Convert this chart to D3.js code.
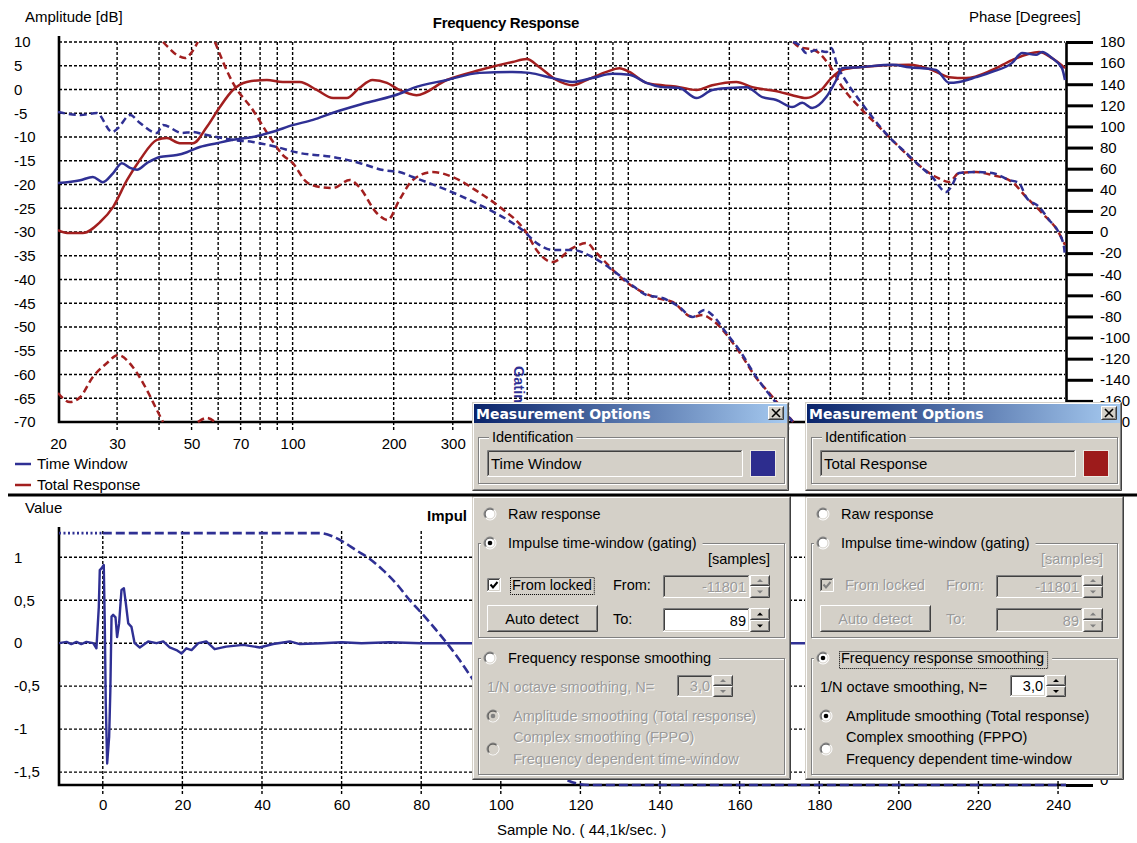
<!DOCTYPE html>
<html>
<head>
<meta charset="utf-8">
<title>Frequency Response / Impulse Response</title>
<script src="https://cdn.jsdelivr.net/npm/d3@7"></script>
<style>
  html, body { margin: 0; padding: 0; background: #fff; }
  svg { display: block; }
</style>
</head>
<body>
<svg id="chart" width="1137" height="843"></svg>
<script>
// ---------------- Data ----------------
// Amplitude [dB] vs frequency [Hz]
const timeWindowAmplitude = [
  [20,-19.7],[23.3,-19.1],[25.4,-18.4],[27.2,-19.5],[29.2,-17.6],[31.0,-15.5],[32.8,-16.5],[34.4,-16.9],
  [36.8,-15.5],[40.2,-14.2],[45.2,-13.8],[48.4,-13.2],[52.9,-12.1],[59.5,-11.3],[66.4,-10.6],[76.1,-10.0],
  [87.3,-8.9],[100,-7.5],[115,-6.4],[132,-4.9],[166,-2.8],[208,-0.9],[228,0.3],[288,2.0],[361,3.5],
  [452,3.7],[508,3.5],[595,2.4],[682,1.6],[782,2.4],[897,3.3],[1008,3.1],[1132,1.4],[1264,0.5],
  [1420,0.3],[1596,-1.8],[1779,-0.1],[2000,0.3],[2248,0.5],[2508,-1.6],[2760,-2.2],[3080,-3.7],
  [3298,-2.8],[3532,-3.9],[3888,-1.6],[4164,2.0],[4336,4.5],[4876,4.7],[6112,5.2],[6868,4.7],
  [8264,4.1],[9032,1.4],[9672,1.6],[10870,2.6],[12128,3.7],[13914,5.6],[14898,7.7],[16398,7.3],
  [17088,7.9],[18302,6.6],[19590,4.5],[20000,2.0]
];
const totalResponseAmplitude = [
  [20,-29.6],[21.3,-30.2],[23.7,-30.2],[26.7,-27.9],[29.2,-24.7],[32.1,-19.1],[35.1,-14.8],[39.4,-10.6],
  [42.2,-10.2],[46.1,-11.3],[50.5,-11.3],[55.5,-7.9],[60.7,-3.7],[66.4,-0.1],[73,1.6],[83.8,2.0],
  [93.5,1.6],[105,1.6],[118,-0.1],[132,-1.8],[145,-1.8],[158,0.3],[173,2.0],[191,1.4],[208,-0.1],
  [234,-1.2],[288,2.0],[361,4.1],[452,5.8],[498,6.4],[544,4.7],[611,2.0],[682,0.9],[751,2.0],
  [861,3.7],[941,4.5],[1008,3.7],[1132,1.4],[1264,0.9],[1420,0.5],[1596,-0.1],[1779,0.9],[2098,1.6],
  [2342,0.5],[2818,-0.5],[3080,-1.2],[3390,-1.8],[3706,-0.5],[4052,2.6],[4336,4.1],[4876,4.7],
  [6868,5.2],[8040,4.1],[9032,2.6],[10148,2.4],[12128,4.1],[13914,6.2],[16740,7.9],[18302,6.6],[20000,4.5]
];
// Phase [degrees] vs frequency [Hz], wrapped to +/-180
const timeWindowPhase = [
  [20,113.7],[23.3,110.8],[26.1,112.7],[29.0,94.7],[30.2,98.5],[32.8,110.8],[35.1,103.3],[39.4,93.8],
  [41.1,101.4],[46.8,93.8],[50.1,94.7],[55.5,91.9],[66.4,87.2],[76.1,85.3],[89.7,80.5],[105,74.8],
  [132,71.1],[158,65.4],[186,58.7],[208,56.8],[228,52.1],[288,39.8],[361,25.6],[452,8.5],[484,1.9],
  [533,-10.4],[595,-17.1],[682,-17.1],[782,-23.7],[897,-36.0],[1008,-48.4],[1132,-59.7],[1264,-62.5],
  [1420,-71.1],[1552,-80.5],[1686,-73.9],[1779,-78.6],[1960,-95.7],[2142,-111.8],[2406,-137.4],
  [2668,-156.3],[3100,-180],[3100,180],[3232,177.2],[3390,169.6],[3630,172.4],[3888,170.5],[4024,174.3],
  [4192,158.2],[4490,141.2],[4876,125.1],[5330,108.9],[5988,90.0],[6728,74.8],[7506,60.6],[8040,52.1],
  [8848,37.9],[9156,42.6],[9672,55.9],[10870,56.8],[12128,55.9],[13630,49.3],[14596,46.4],[15312,33.2],
  [16740,23.7],[17932,11.4],[19192,-1.0],[19864,-14.2],[20000,-23.7]
];
const totalResponsePhase = [
  [20,-152.5],[21.7,-161.1],[23.3,-156.3],[25.4,-137.4],[28.0,-124.1],[30.2,-116.5],[33.4,-127.9],
  [36.8,-149.7],[39.4,-168.6],[41.1,-180],[41.1,180],[42.5,175.3],[45.2,167.7],[47.8,164.8],[50.1,170.5],
  [52.2,180],[52.2,-180],[55.5,-176.2],[58.7,-180],[58.7,180],[66.4,141.2],[76.1,115.6],[85.5,90.0],
  [93.5,72.9],[100,65.4],[110,47.4],[120.5,42.6],[132,41.7],[148,49.3],[158,42.6],[178,18.0],[192,11.4],
  [208,30.3],[228,49.3],[261,56.8],[300,52.1],[361,37.0],[414,23.7],[498,-1.0],[533,-17.1],[595,-28.4],
  [682,-15.2],[751,-10.4],[804,-19.9],[987,-47.4],[1213,-62.5],[1354,-66.3],[1552,-80.5],[1663,-78.6],
  [1779,-83.4],[2142,-113.7],[2406,-138.3],[2630,-152.5],[3100,-180],[3100,180],[3232,175.3],
  [3582,172.4],[3968,158.2],[4336,137.4],[4876,118.4],[5590,99.5],[6412,80.5],[7206,65.4],[8264,52.1],
  [9032,47.4],[9672,55.9],[10870,56.8],[12128,54.0],[13914,47.4],[15312,33.2],[17088,18.0],
  [19192,-1.0],[20000,-12.3]
];
const dbTicks = [10,5,0,-5,-10,-15,-20,-25,-30,-35,-40,-45,-50,-55,-60,-65,-70];
const phaseTicks = [180,160,140,120,100,80,60,40,20,0,-20,-40,-60,-80,-100,-120,-140,-160,-180];
const freqLabels = [20,30,50,70,100,200,300];

// Impulse response value vs sample number
const impulse = [
  [-11,0],[-9.1,0.015],[-7.9,-0.01],[-6.6,0.015],[-5.4,-0.01],[-4.1,0.015],[-2.4,0],[-1.6,-0.06],
  [-1.0,0.42],[-0.75,0.85],[-0.33,0.87],[0.25,0.91],[0.5,0.23],[0.75,-0.70],[1.1,-1.40],[1.6,-1.09],
  [1.9,-0.55],[2.2,0.31],[2.6,0.33],[3.2,0.30],[3.6,0.07],[4.1,0.23],[4.7,0.62],[5.3,0.64],[5.8,0.46],
  [6.4,0.23],[7.2,0.19],[8,0],[9.3,-0.05],[11.4,0.02],[13.5,0],[15.2,0.02],[16.8,-0.05],[18.5,-0.08],
  [19.8,-0.12],[21,-0.06],[22.3,-0.08],[24,0],[26,0.02],[28.1,-0.07],[31,-0.04],[35.3,-0.02],
  [39.4,-0.05],[42.8,-0.01],[47,0.02],[49.5,-0.01],[55,0],[60,0.01],[65,0],[72,0.01],[80,0],[92,0],[242,0]
];
// Gating window: pre-trigger part and window taper
const windowPre = [[-11,1.28],[0,1.28]];
const windowMain = [
  [0,1.28],[54.5,1.28],[57.9,1.24],[60.4,1.18],[63.7,1.08],[67.1,0.98],[70.4,0.85],[73.8,0.69],
  [77.1,0.50],[80.5,0.33],[83.8,0.15],[86.8,-0.02],[89.7,-0.20],[92.2,-0.37],[100,-0.85],[110,-1.35],
  [117,-1.60],[122,-1.65],[242,-1.65]
];
const valueTicks = [1,0.5,0,-0.5,-1,-1.5];
const sampleTicks = [0,20,40,60,80,100,120,140,160,180,200,220,240];

// ---------------- Styles ----------------
const BLUE = "#2f3094", RED = "#a21f1f";
const FONT = '"Liberation Sans", Arial, sans-serif';
const GRAY = "#d4d0c8", DARK = "#404040", SHADOW = "#808080", LIGHT = "#ffffff", GRAYTEXT = "#9a9a9a";

const svg = d3.select("#chart").attr("font-family", FONT);
svg.append("rect").attr("width", 1137).attr("height", 843).attr("fill", "#fff");
const defs = svg.append("defs");
const grad = defs.append("linearGradient").attr("id", "titlebar").attr("x1", 0).attr("x2", 1).attr("y1", 0).attr("y2", 0);
grad.append("stop").attr("offset", 0).attr("stop-color", "#0a246a");
grad.append("stop").attr("offset", 1).attr("stop-color", "#a6caf0");
defs.append("clipPath").attr("id", "clipTop").append("rect")
  .attr("x", 58).attr("y", 40).attr("width", 1009).attr("height", 384);
defs.append("clipPath").attr("id", "clipBot").append("rect")
  .attr("x", 59).attr("y", 520).attr("width", 1008).attr("height", 268);

const grid = sel => sel.attr("stroke", "#000").attr("stroke-width", 1.4).attr("stroke-dasharray", "3,2");

// ================= Frequency response chart =================
const fx = d3.scaleLog().domain([20, 20000]).range([58, 1065]);
const yDb = d3.scaleLinear().domain([-70, 10]).range([422, 42]);
const yPh = d3.scaleLinear().domain([-180, 180]).range([422, 42]);

const topG = svg.append("g");
topG.append("g").selectAll("line").data(fx.ticks().filter(f => f > 20 && f < 20000)).join("line")
  .attr("x1", d => fx(d)).attr("x2", d => fx(d)).attr("y1", 42).attr("y2", 431).call(grid);
topG.append("g").selectAll("line").data(dbTicks.filter(d => d > -70)).join("line")
  .attr("x1", 59).attr("x2", 1065).attr("y1", d => yDb(d)).attr("y2", d => yDb(d)).call(grid);

topG.append("path").attr("d", `M${fx(20) + 1},36V${yDb(-70)}H${fx(20000)}`)
  .attr("fill", "none").attr("stroke", "#000").attr("stroke-width", 2.6);

// left dB labels (left aligned)
topG.append("g").attr("transform", "translate(14,0)")
  .call(d3.axisRight(yDb).tickValues(dbTicks).tickFormat(d => String(d)).tickSize(0).tickPadding(0))
  .call(g => g.select(".domain").remove())
  .attr("font-size", 15).attr("font-family", FONT);

// right phase axis
const rAx = topG.append("g").attr("transform", `translate(${fx(20000) + 1},0)`)
  .call(d3.axisRight(yPh).tickValues(phaseTicks).tickFormat(d => String(d)).tickSize(27).tickSizeOuter(0).tickPadding(7))
  .attr("font-size", 15).attr("font-family", FONT);
rAx.select(".domain").attr("stroke-width", 2.6);
rAx.selectAll(".tick line").attr("stroke-width", 3);

// frequency labels
topG.append("g").attr("transform", `translate(0,${yDb(-70)})`)
  .call(d3.axisBottom(fx).tickValues(freqLabels).tickFormat(d3.format("d")).tickSize(0).tickPadding(16))
  .call(g => g.select(".domain").remove())
  .attr("font-size", 15).attr("font-family", FONT);

// curves
function splitWrap(data) {
  const segs = []; let cur = [];
  data.forEach(p => {
    if (cur.length && Math.abs(p[1] - cur[cur.length - 1][1]) > 180) { segs.push(cur); cur = []; }
    cur.push(p);
  });
  if (cur.length) segs.push(cur);
  return segs;
}
const ampLine = d3.line().x(d => fx(d[0])).y(d => yDb(d[1])).curve(d3.curveMonotoneX);
const phLine = d3.line().x(d => fx(d[0])).y(d => yPh(d[1])).curve(d3.curveMonotoneX);
const curves = topG.append("g").attr("clip-path", "url(#clipTop)").attr("fill", "none").attr("stroke-width", 2.5);
curves.selectAll(".trp").data(splitWrap(totalResponsePhase)).join("path")
  .attr("d", phLine).attr("stroke", RED).attr("stroke-dasharray", "7,4");
curves.selectAll(".twp").data(splitWrap(timeWindowPhase)).join("path")
  .attr("d", phLine).attr("stroke", BLUE).attr("stroke-dasharray", "7,4");
curves.append("path").datum(totalResponseAmplitude).attr("d", ampLine).attr("stroke", RED);
curves.append("path").datum(timeWindowAmplitude).attr("d", ampLine).attr("stroke", BLUE);

// titles
svg.append("text").attr("x", 25).attr("y", 22).attr("font-size", 15).text("Amplitude [dB]");
svg.append("text").attr("x", 969).attr("y", 22).attr("font-size", 15).text("Phase [Degrees]");
svg.append("text").attr("x", 506).attr("y", 28).attr("font-size", 15).attr("font-weight", "bold")
  .attr("text-anchor", "middle").attr("letter-spacing", -0.3).text("Frequency Response");
svg.append("text").attr("transform", "translate(514,366) rotate(90)").attr("font-size", 14.5)
  .attr("font-weight", "bold").attr("fill", BLUE).text("Gating");

// legend
const legendItems = [["Time Window", BLUE], ["Total Response", RED]];
const lg = svg.append("g").selectAll("g").data(legendItems).join("g")
  .attr("transform", (d, i) => `translate(15,${464 + i * 21})`);
lg.append("line").attr("x1", 0).attr("x2", 16).attr("stroke", d => d[1]).attr("stroke-width", 2.5);
lg.append("text").attr("x", 22).attr("y", 5).attr("font-size", 15).text(d => d[0]);

// ================= Impulse response chart =================
const sx = d3.scaleLinear().domain([-11, 242]).range([59, 1066]);
const vy = d3.scaleLinear().domain([-1.65, 1.34]).range([785, 528]);
const gain = d3.scaleLinear().domain([0, 1]).range([785, 533]);

const botG = svg.append("g");
botG.append("g").selectAll("line").data(sampleTicks).join("line")
  .attr("x1", d => sx(d)).attr("x2", d => sx(d)).attr("y1", 531).attr("y2", 794).call(grid);
botG.append("g").selectAll("line").data(valueTicks).join("line")
  .attr("x1", 59).attr("x2", 1066).attr("y1", d => vy(d)).attr("y2", d => vy(d)).call(grid);
botG.append("path").attr("d", `M${sx(-11)},527V${vy(-1.65)}H${sx(242)}`)
  .attr("fill", "none").attr("stroke", "#000").attr("stroke-width", 2.6);

botG.append("g").attr("transform", "translate(14,0)")
  .call(d3.axisRight(vy).tickValues(valueTicks).tickFormat(d => String(d).replace(".", ",")).tickSize(0).tickPadding(0))
  .call(g => g.select(".domain").remove())
  .attr("font-size", 15).attr("font-family", FONT);
botG.append("g").attr("transform", `translate(0,${vy(-1.65)})`)
  .call(d3.axisBottom(sx).tickValues(sampleTicks).tickFormat(d3.format("d")).tickSize(0).tickPadding(14))
  .call(g => g.select(".domain").remove())
  .attr("font-size", 15).attr("font-family", FONT);
const gAx = botG.append("g").attr("transform", `translate(${sx(242)},0)`)
  .call(d3.axisRight(gain).tickValues([0]).tickFormat(d3.format("d")).tickSize(27).tickSizeOuter(0).tickPadding(7))
  .attr("font-size", 15).attr("font-family", FONT);
gAx.select(".domain").remove();
gAx.selectAll(".tick line").attr("stroke-width", 3);
gAx.selectAll(".tick text").attr("dy", "-0.05em");

const sLine = d3.line().x(d => sx(d[0])).y(d => vy(d[1]));
const bc = botG.append("g").attr("clip-path", "url(#clipBot)").attr("fill", "none").attr("stroke", BLUE);
bc.append("path").datum(impulse).attr("d", sLine).attr("stroke-width", 2.4).attr("stroke-linejoin", "round");
bc.append("path").datum(windowPre).attr("d", sLine).attr("stroke-width", 2.6).attr("stroke-dasharray", "2,2.5");
bc.append("path").datum(windowMain).attr("d", sLine.curve(d3.curveMonotoneX)).attr("stroke-width", 2.6).attr("stroke-dasharray", "9,4");

svg.append("text").attr("x", 25).attr("y", 513).attr("font-size", 15).text("Value");
// chart caption: the part left of the option dialog
svg.append("text").attr("x", 427).attr("y", 521).attr("font-size", 15).attr("font-weight", "bold").text("Impul");
svg.append("text").attr("x", 497).attr("y", 835).attr("font-size", 15).text("Sample No. ( 44,1k/sec. )");

// ================= Measurement option dialogs =================
function textWidth(t, size, weight) {
  const n = svg.append("text").attr("font-size", size).attr("font-weight", weight || "normal").text(t);
  const w = n.node().getComputedTextLength(); n.remove(); return w;
}
function bevel(g, x, y, w, h, tl, br) {
  g.append("path").attr("d", `M${x + 0.5},${y + h - 1}V${y + 0.5}H${x + w - 1}`).attr("fill", "none").attr("stroke", tl);
  g.append("path").attr("d", `M${x + 0.5},${y + h - 0.5}H${x + w - 0.5}V${y + 0.5}`).attr("fill", "none").attr("stroke", br);
}
function box(g, x, y, w, h, fill) {
  g.append("rect").attr("x", x).attr("y", y).attr("width", w).attr("height", h).attr("fill", fill);
}
function panel(g, x, y, w, h) { box(g, x, y, w, h, GRAY); bevel(g, x, y, w, h, GRAY, DARK); bevel(g, x + 1, y + 1, w - 2, h - 2, LIGHT, SHADOW); }
function button(g, x, y, w, h) { box(g, x, y, w, h, GRAY); bevel(g, x, y, w, h, LIGHT, DARK); bevel(g, x + 1, y + 1, w - 2, h - 2, GRAY, SHADOW); }
function field(g, x, y, w, h, fill) { box(g, x, y, w, h, fill); bevel(g, x, y, w, h, SHADOW, LIGHT); bevel(g, x + 1, y + 1, w - 2, h - 2, DARK, GRAY); }
function label(g, x, y, t, o = {}) {
  const size = o.size || 14.5;
  const mk = (dx, dy, fill) => g.append("text").attr("x", x + dx).attr("y", y + dy).attr("font-size", size)
    .attr("text-anchor", o.anchor || "start").attr("font-weight", o.weight || "normal").attr("fill", fill).text(t);
  if (o.disabled) { mk(1, 1, LIGHT); return mk(0, 0, GRAYTEXT); }
  return mk(0, 0, o.fill || "#000");
}
function radio(g, cx, cy, checked, disabled) {
  const c = Math.SQRT1_2;
  g.append("circle").attr("cx", cx).attr("cy", cy).attr("r", 6).attr("fill", disabled ? GRAY : LIGHT);
  const arc = (r, c1, c2) => {
    const a = r * c;
    g.append("path").attr("d", `M${cx - a},${cy + a}A${r},${r} 0 0 1 ${cx + a},${cy - a}`).attr("fill", "none").attr("stroke", c1);
    g.append("path").attr("d", `M${cx + a},${cy - a}A${r},${r} 0 0 1 ${cx - a},${cy + a}`).attr("fill", "none").attr("stroke", c2);
  };
  arc(6, SHADOW, LIGHT); arc(5, DARK, GRAY);
  if (checked) g.append("circle").attr("cx", cx).attr("cy", cy).attr("r", 2.3).attr("fill", disabled ? SHADOW : "#000");
}
function checkbox(g, x, y, checked, disabled) {
  field(g, x, y, 14, 14, disabled ? GRAY : LIGHT);
  if (checked) g.append("path").attr("d", `M${x + 3.5},${y + 6.5}L${x + 6},${y + 9.5}L${x + 10.5},${y + 4}`)
    .attr("fill", "none").attr("stroke", disabled ? SHADOW : "#000").attr("stroke-width", 2);
}
function spinner(g, x, y, w, h, disabled) {
  const h1 = Math.floor(h / 2), cx = x + w / 2, col = disabled ? SHADOW : "#000";
  button(g, x, y, w, h1); button(g, x, y + h1, w, h - h1);
  const ya = y + h1 / 2, yb = y + h1 + (h - h1) / 2;
  g.append("path").attr("d", `M${cx - 3},${ya + 1.5}H${cx + 3}L${cx},${ya - 1.5}Z`).attr("fill", col);
  g.append("path").attr("d", `M${cx - 3},${yb - 1.5}H${cx + 3}L${cx},${yb + 1.5}Z`).attr("fill", col);
}
function groupFrame(g, x, y, w, h) {
  g.append("rect").attr("x", x + 1.5).attr("y", y + 1.5).attr("width", w - 1).attr("height", h - 1).attr("fill", "none").attr("stroke", LIGHT);
  g.append("rect").attr("x", x + 0.5).attr("y", y + 0.5).attr("width", w - 1).attr("height", h - 1).attr("fill", "none").attr("stroke", SHADOW);
}
function focusRect(g, x, y, w, h) {
  g.append("rect").attr("x", x + 0.5).attr("y", y + 0.5).attr("width", w).attr("height", h)
    .attr("fill", "none").attr("stroke", "#000").attr("stroke-dasharray", "1,1");
}

function drawDialog(x0, cfg) {
  const g = svg.append("g");
  // caption + identification
  panel(g, x0, 402, 317, 89);
  g.append("rect").attr("x", x0 + 2).attr("y", 404).attr("width", 313).attr("height", 19).attr("fill", "url(#titlebar)");
  g.append("text").attr("x", x0 + 4).attr("y", 419).attr("font-family", '"DejaVu Sans", sans-serif')
    .attr("font-weight", "bold").attr("font-size", 14).attr("fill", "#fff").text("Measurement Options");
  button(g, x0 + 296, 406, 16, 14);
  g.append("path").attr("d", `M${x0 + 300},409L${x0 + 308},417M${x0 + 308},409L${x0 + 300},417`)
    .attr("stroke", "#000").attr("stroke-width", 1.6);
  groupFrame(g, x0 + 6, 437, 307, 47);
  box(g, x0 + 17, 430, textWidth("Identification", 14.5) + 6, 14, GRAY);
  label(g, x0 + 20, 442, "Identification");
  field(g, x0 + 15, 450, 256, 27, GRAY);
  label(g, x0 + 19, 469, cfg.ident, { size: 15 });
  g.append("rect").attr("x", x0 + 278.5).attr("y", 450.5).attr("width", 25).attr("height", 26)
    .attr("fill", cfg.color).attr("stroke", "#ece9e2");

  // options
  panel(g, x0, 496, 319, 284);
  radio(g, x0 + 18, 514, false, false);
  label(g, x0 + 36, 519, "Raw response");

  const gating = cfg.gating, smoothing = cfg.smoothing;
  groupFrame(g, x0 + 6, 543, 307, 95);
  const gt = "Impulse time-window (gating)";
  box(g, x0 + 9, 535, 27 + textWidth(gt, 14.5) + 6, 16, GRAY);
  radio(g, x0 + 18, 543, gating, false);
  label(g, x0 + 36, 548, gt);
  label(g, x0 + 298, 564, "[samples]", { anchor: "end", disabled: !gating });
  checkbox(g, x0 + 15, 578, true, !gating);
  label(g, x0 + 40, 590, "From locked", { disabled: !gating });
  if (gating) focusRect(g, x0 + 38, 577, textWidth("From locked", 14.5) + 4, 17);
  label(g, x0 + 141, 590, "From:", { disabled: !gating });
  field(g, x0 + 191, 575, 87, 23, GRAY);
  label(g, x0 + 274, 592, cfg.from, { anchor: "end", disabled: true });
  spinner(g, x0 + 278, 575, 20, 23, true);
  button(g, x0 + 15, 605, 111, 27);
  label(g, x0 + 70, 624, "Auto detect", { anchor: "middle", disabled: !gating });
  label(g, x0 + 141, 624, "To:", { disabled: !gating });
  field(g, x0 + 191, 608, 87, 24, gating ? LIGHT : GRAY);
  label(g, x0 + 274, 626, cfg.to, { anchor: "end", disabled: !gating });
  spinner(g, x0 + 278, 608, 20, 24, !gating);

  groupFrame(g, x0 + 6, 658, 307, 117);
  const st = "Frequency response smoothing";
  const stw = textWidth(st, 14.5);
  box(g, x0 + 9, 650, 27 + stw + 8, 18, GRAY);
  radio(g, x0 + 18, 658, smoothing, false);
  label(g, x0 + 36, 663, st);
  if (smoothing) focusRect(g, x0 + 34, 651, stw + 5, 17);
  label(g, x0 + 15, 692, "1/N octave smoothing, N=", { disabled: !smoothing });
  field(g, x0 + 205, 675, 36, 22, smoothing ? LIGHT : GRAY);
  label(g, x0 + 238, 691, cfg.n, { anchor: "end", disabled: !smoothing });
  spinner(g, x0 + 241, 675, 20, 22, !smoothing);
  radio(g, x0 + 21, 716, true, !smoothing);
  label(g, x0 + 41, 721, "Amplitude smoothing (Total response)", { disabled: !smoothing });
  radio(g, x0 + 21, 749, false, !smoothing);
  label(g, x0 + 41, 742, "Complex smoothing (FPPO)", { disabled: !smoothing });
  label(g, x0 + 41, 764, "Frequency dependent time-window", { disabled: !smoothing });
}

drawDialog(472, { ident: "Time Window", color: "#2d2d8e", gating: true, smoothing: false, from: "-11801", to: "89", n: "3,0" });
drawDialog(805, { ident: "Total Response", color: "#9d1b1b", gating: false, smoothing: true, from: "-11801", to: "89", n: "3,0" });

// panel separator
svg.append("line").attr("x1", 8).attr("x2", 1137).attr("y1", 495).attr("y2", 495)
  .attr("stroke", "#000").attr("stroke-width", 3);
</script>
</body>
</html>
